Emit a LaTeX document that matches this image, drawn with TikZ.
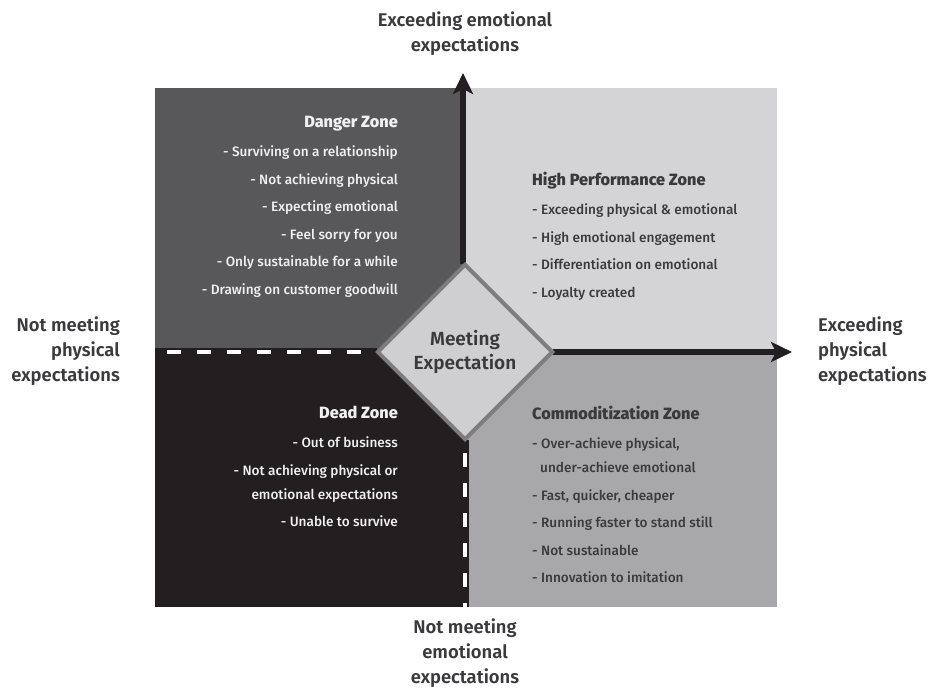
\documentclass[tikz,border=0pt]{standalone}
\usepackage{fontspec}
\setmainfont{Fira Sans}[BoldFont={Fira Sans SemiBold}]
\newfontfamily\medfont{Fira Sans Medium}
\usepackage{xcolor}
\usepackage{tikz}
\usetikzlibrary{arrows.meta,shapes.geometric}

\definecolor{dangergray}{HTML}{58585A}
\definecolor{highgray}{HTML}{D4D4D6}
\definecolor{deadblack}{HTML}{231F20}
\definecolor{commodgray}{HTML}{A8A8AA}
\definecolor{meetgray}{HTML}{CFCFD1}
\definecolor{rimgray}{HTML}{7D7D7F}
\definecolor{inkgray}{HTML}{3A3A3C}
\definecolor{paleink}{HTML}{F0F0F0}

\newcommand{\zonehead}{\fontsize{16.3}{18}\selectfont\bfseries}

\tikzset{
	axislabel/.style={font=\fontsize{18.4}{25}\selectfont\bfseries, text=inkgray, inner sep=0pt},
	zonetext/.style={font=\medfont\fontsize{13.6}{27.5}\selectfont, inner sep=0pt},
	axisarrow/.style={line width=6.5pt, draw=deadblack, -{Stealth[length=21pt,width=20pt,inset=5pt]}},
	splitline/.style={line width=8pt, draw=deadblack},
	splitdash/.style={line width=4pt, draw=white, dash pattern=on 14pt off 16pt}
}

\begin{document}
\begin{tikzpicture}[x=1pt,y=-1pt]
			\useasboundingbox (0,0) rectangle (929,688);

			\fill[dangergray] (155,88) rectangle (465,352);
			\fill[highgray] (465,88) rectangle (777,352);
			\fill[deadblack] (155,352) rectangle (465,607);
			\fill[commodgray] (465,352) rectangle (777,607);

			\node[diamond, aspect=1, minimum width=176pt, minimum height=176pt, inner sep=0pt] (meet) at (465,352) {};
			\coordinate (leftend) at (155,352);
			\coordinate (bottomend) at (465,607);
			\coordinate (emotop) at (463,73);
			\coordinate (physend) at (792,352);

			\draw[splitline] (leftend) -- (meet.west);
			\draw[splitdash, dash phase=-12pt] (leftend) -- (meet.west);
			\draw[splitline] (meet.south) -- (bottomend);
			\draw[splitdash, dash phase=-13pt] (meet.south) -- (bottomend);
			\draw[axisarrow] (meet.north -| emotop) -- (emotop);
			\draw[axisarrow] (meet.east) -- (physend);

			\node[diamond, aspect=1, minimum width=176pt, minimum height=176pt, inner sep=0pt,
				fill=meetgray, draw=rimgray, line width=4pt, align=center,
				font=\fontsize{19}{24}\selectfont\bfseries, text=inkgray] (meettext) at (meet) {Meeting\\Expectation};

			\node[zonetext, text=paleink, align=right, anchor=north east] (danger) at (398,116)
				{{\zonehead Danger Zone}\\[1.5pt]
				- Surviving on a relationship\\
				- Not achieving physical\\
				- Expecting emotional\\
				- Feel sorry for you\\
				- Only sustainable for a while\\
				- Drawing on customer goodwill};
			\node[zonetext, text=inkgray, align=left, anchor=north west] (high) at (532,172)
				{{\zonehead High Performance Zone}\\[1.5pt]
				- Exceeding physical \& emotional\\
				- High emotional engagement\\
				- Differentiation on emotional\\
				- Loyalty created};
			\node[zonetext, text=paleink, align=right, anchor=north east] (dead) at (398,406)
				{{\zonehead Dead Zone}\\[1.5pt]
				- Out of business\\
				- Not achieving physical or\\[-3.5pt]
				emotional expectations\\
				- Unable to survive};
			\node[zonetext, text=inkgray, align=left, anchor=north west] (commod) at (532,406)
				{{\zonehead Commoditization Zone}\\[1.5pt]
				- Over-achieve physical,\\[-3.5pt]
				\hspace*{8pt}under-achieve emotional\\
				- Fast, quicker, cheaper\\
				- Running faster to stand still\\
				- Not sustainable\\
				- Innovation to imitation};

			\node[axislabel, align=center, anchor=north] (toplabel) at (465,12) {Exceeding emotional\\expectations};
			\node[axislabel, align=center, anchor=north] (bottomlabel) at (465,619) {Not meeting\\emotional\\expectations};
			\node[axislabel, align=right, anchor=north east] (leftlabel) at (120,317) {Not meeting\\physical\\expectations};
			\node[axislabel, align=left, anchor=north west] (rightlabel) at (818,317) {Exceeding\\physical\\expectations};
		\end{tikzpicture}
\end{document}
